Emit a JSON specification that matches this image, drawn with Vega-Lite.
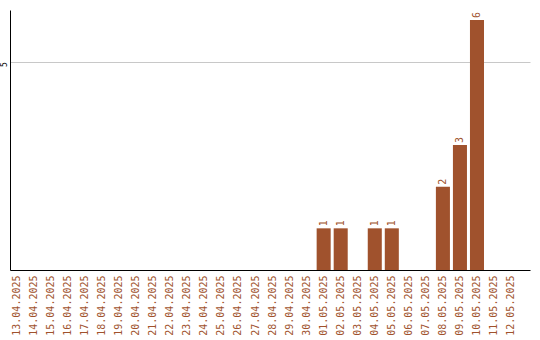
{
  "$schema": "https://vega.github.io/schema/vega-lite/v6.json",
  "autosize": "none",
  "width": 520,
  "height": 260,
  "padding": {"left": 10, "top": 10, "right": 10, "bottom": 70},
  "background": "white",
  "config": {"view": {"stroke": null}},
  "data": {
    "values": [
      {"date": "13.04.2025", "n": 0},
      {"date": "14.04.2025", "n": 0},
      {"date": "15.04.2025", "n": 0},
      {"date": "16.04.2025", "n": 0},
      {"date": "17.04.2025", "n": 0},
      {"date": "18.04.2025", "n": 0},
      {"date": "19.04.2025", "n": 0},
      {"date": "20.04.2025", "n": 0},
      {"date": "21.04.2025", "n": 0},
      {"date": "22.04.2025", "n": 0},
      {"date": "23.04.2025", "n": 0},
      {"date": "24.04.2025", "n": 0},
      {"date": "25.04.2025", "n": 0},
      {"date": "26.04.2025", "n": 0},
      {"date": "27.04.2025", "n": 0},
      {"date": "28.04.2025", "n": 0},
      {"date": "29.04.2025", "n": 0},
      {"date": "30.04.2025", "n": 0},
      {"date": "01.05.2025", "n": 1},
      {"date": "02.05.2025", "n": 1},
      {"date": "03.05.2025", "n": 0},
      {"date": "04.05.2025", "n": 1},
      {"date": "05.05.2025", "n": 1},
      {"date": "06.05.2025", "n": 0},
      {"date": "07.05.2025", "n": 0},
      {"date": "08.05.2025", "n": 2},
      {"date": "09.05.2025", "n": 3},
      {"date": "10.05.2025", "n": 6},
      {"date": "11.05.2025", "n": 0},
      {"date": "12.05.2025", "n": 0}
    ]
  },
  "encoding": {
    "x": {
      "field": "date",
      "type": "ordinal",
      "sort": null,
      "title": null,
      "scale": {"paddingInner": 0.176, "paddingOuter": 0.35, "align": 0},
      "axis": {
        "labelAngle": -90,
        "labelAlign": "right",
        "labelBaseline": "middle",
        "labelPadding": 5,
        "labelFont": "DejaVu Sans Mono",
        "labelFontSize": 10,
        "labelColor": "#a0522d",
        "ticks": false,
        "domainColor": "#000000",
        "domainWidth": 1,
        "grid": false
      }
    },
    "y": {
      "field": "n",
      "type": "quantitative",
      "title": null,
      "scale": {"domain": [0, 6.24], "nice": false},
      "axis": {
        "values": [5],
        "ticks": false,
        "grid": true,
        "gridColor": "#c8c8c8",
        "gridWidth": 1,
        "domainColor": "#000000",
        "domainWidth": 1,
        "labelAngle": -90,
        "labelAlign": "right",
        "labelBaseline": "bottom",
        "labelPadding": 2,
        "labelFont": "DejaVu Sans Mono",
        "labelFontSize": 8,
        "labelColor": "#000000"
      }
    }
  },
  "layer": [
    {
      "mark": {"type": "bar", "color": "#a0522d"}
    },
    {
      "transform": [{"filter": "datum.n > 0"}],
      "mark": {
        "type": "text",
        "angle": 270,
        "align": "left",
        "baseline": "middle",
        "dx": 2,
        "font": "DejaVu Sans Mono",
        "fontSize": 10,
        "color": "#a0522d"
      },
      "encoding": {"text": {"field": "n", "type": "quantitative"}}
    }
  ]
}
